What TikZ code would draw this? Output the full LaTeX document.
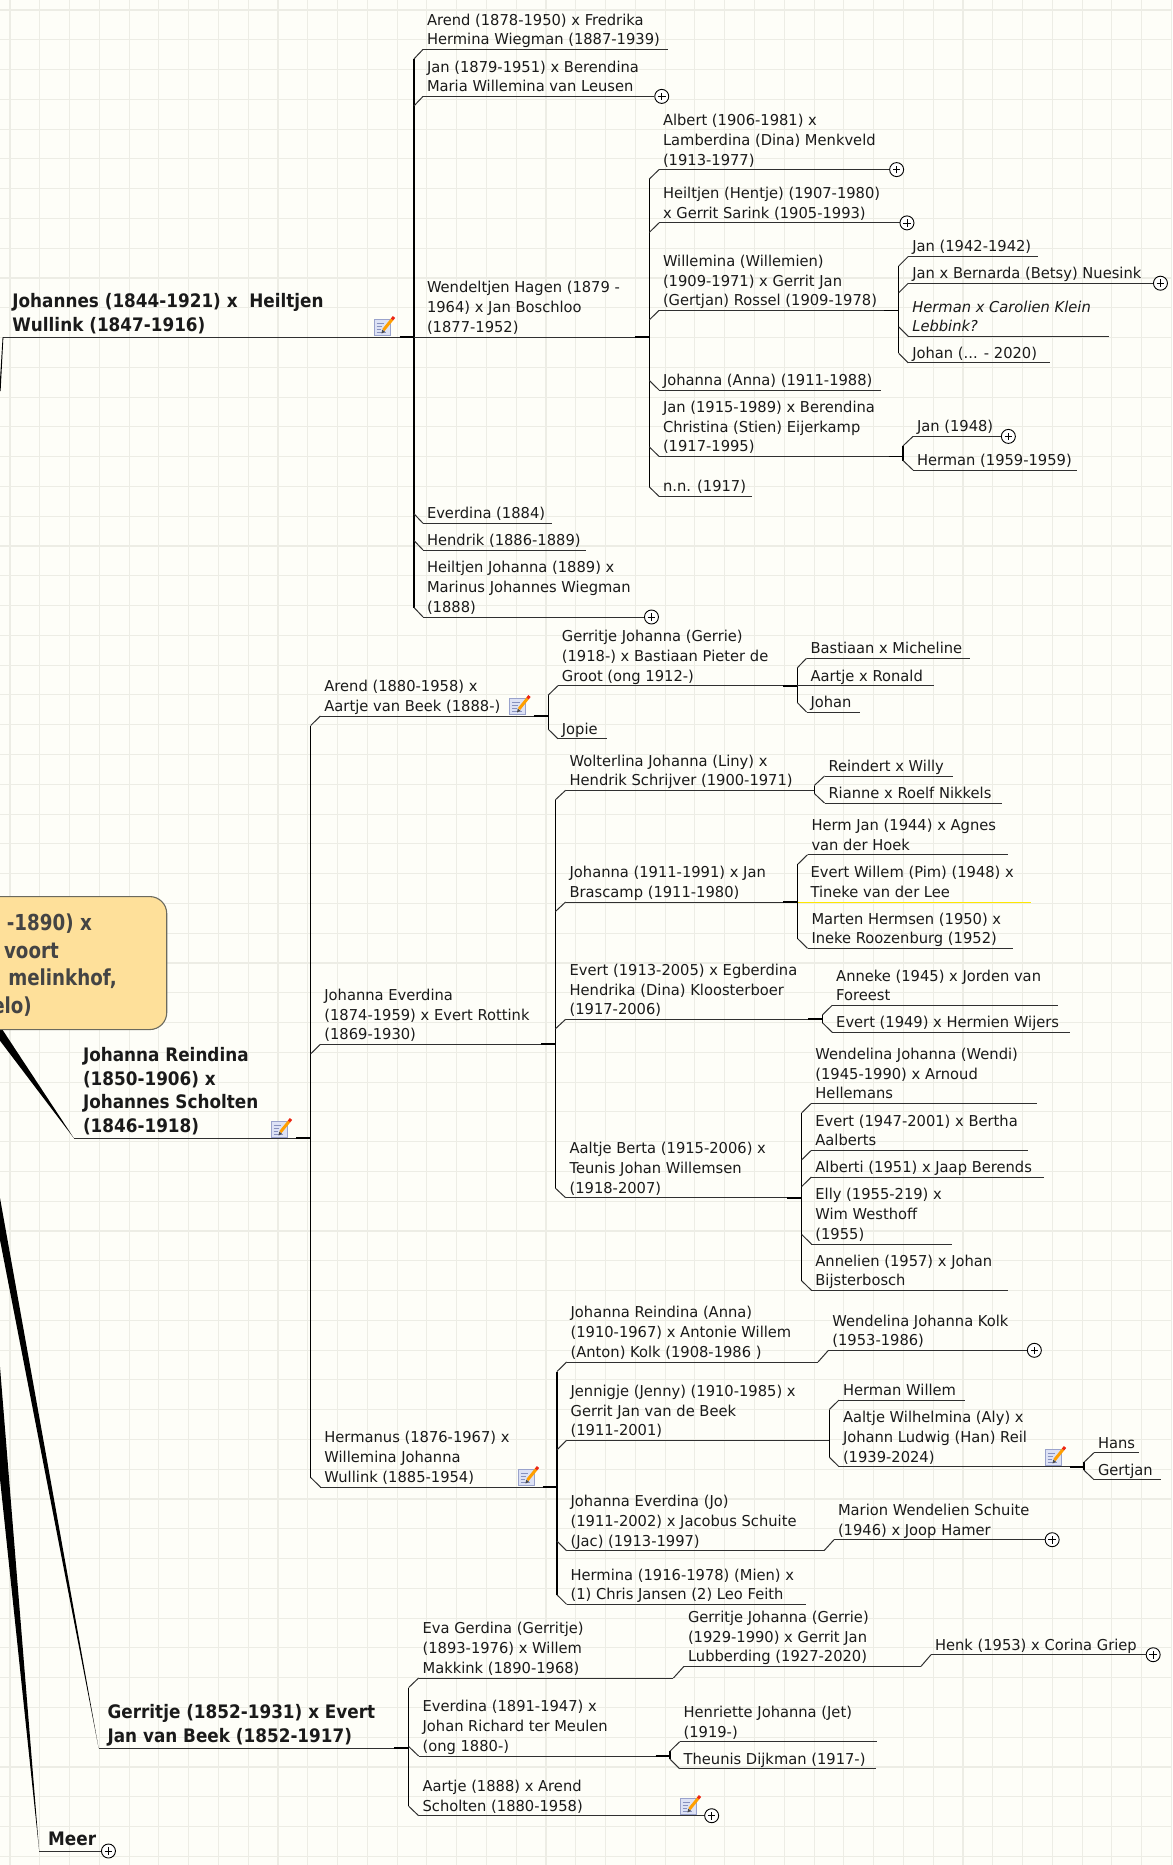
\documentclass[tikz,border=0pt]{standalone}
\usepackage{fontspec}
\setmainfont{DejaVu Sans}[FakeStretch=0.98,BoldFeatures={FakeStretch=0.905}]
\newfontfamily\rootfont{DejaVu Sans}[FakeStretch=0.83,BoldFeatures={FakeStretch=0.83}]
\usetikzlibrary{calc}
\definecolor{bgc}{HTML}{FEFEF8}
\definecolor{gridc}{HTML}{EDEDE5}
\definecolor{inkc}{HTML}{1A1A1A}
\definecolor{linec}{HTML}{303030}
\definecolor{rootfill}{HTML}{FEE09A}
\definecolor{rootedge}{HTML}{6B6A5E}
\definecolor{roottext}{HTML}{444444}
\definecolor{paperc}{HTML}{DDE2F5}
\definecolor{paperedge}{HTML}{9AA3CC}
\definecolor{paperline}{HTML}{8791BE}
\tikzset{
  x=1pt,y=-1pt,
  person/.style={anchor=south west,inner xsep=0pt,inner ysep=4.5pt,outer sep=0pt,text depth=0pt,text=inkc},
  bigperson/.style={person,inner ysep=6pt},
  link/.style={draw=linec,line width=1pt},
  spineline/.style={draw=black,line width=1.2pt},
  stub/.style={draw=black,line width=1.8pt},
  plusc/.style={circle,draw=black,fill=white,line width=.9pt,minimum size=14pt,inner sep=0pt,anchor=west,
    path picture={\draw[line width=.8pt] (-3.8pt,0)--(3.8pt,0) (0,-3.8pt)--(0,3.8pt);}},
  rootbox/.style={draw=rootedge,fill=rootfill,line width=1.1pt,rounded corners=17pt,minimum width=210pt,minimum height=133pt,anchor=north east,inner sep=0pt},
  roottxt/.style={anchor=base east,inner sep=0pt,text=roottext,font=\rootfont\fontsize{22}{27}\selectfont\bfseries},
}
% name, x1, x2, y, text
\newcommand\pers[5]{\node[person] (#1) at (#2,#4) {\makebox[\dimexpr#3pt-#2pt\relax][l]{\hspace*{4pt}\parbox[b]{420pt}{\fontsize{15}{19.8}\selectfont\baselineskip=19.8pt\lineskiplimit=-100pt\raggedright #5\par}}};
  \draw[link] (#1.south west) -- (#1.south east);}
\newcommand\bigpers[5]{\node[bigperson] (#1) at (#2,#4) {\makebox[\dimexpr#3pt-#2pt\relax][l]{\hspace*{9pt}\parbox[b]{420pt}{\fontsize{18.6}{23.6}\selectfont\bfseries\baselineskip=23.6pt\lineskiplimit=-100pt\raggedright #5\par}}};
  \draw[link] (#1.south west) -- (#1.south east);}
\newcommand\chUp[2]{\draw[link] let \p1=(#1.south east),\p2=(#2.south west) in (\x1,\y2-9.5pt) -- (\p2);}
\newcommand\chDn[2]{\draw[link] let \p1=(#1.south east),\p2=(#2.south west) in (\x1,\y2+9.5pt) -- (\p2);}
\newcommand\spineOf[3]{\draw[spineline] let \p1=(#1.south east),\p2=(#2.south west),\p3=(#3.south west) in (\x1,\y2-9.5pt) -- (\x1,\y3+9.5pt);}
\newcommand\stubOf[1]{\draw[stub] ([xshift=-14.5pt]#1.south east) -- (#1.south east);}
\newcommand\plusOf[2]{\node[plusc] (#1) at (#2.south east) {};}
\newcommand\noteicon[2]{\begin{scope}[shift={(#1,#2)}]
  \filldraw[fill=paperc,draw=paperedge,line width=.7pt] (0,4) rectangle (16,20);
  \draw[paperline,line width=.7pt] (2.5,8)--(10,8) (2.5,11)--(8,11) (2.5,14)--(7,14) (2.5,17)--(12,17);
  \draw[orange!75!yellow,line width=3pt] (9.5,15)--(18,4.5);
  \draw[red!70!brown,line width=3pt] (18,4.5)--(20,2);
  \fill[black!70] (7.5,18.5)--(8.2,14.6)--(11,16.8)--cycle;
\end{scope}}
\begin{document}
\begin{tikzpicture}
\useasboundingbox (0,0) rectangle (1172,1865);
\fill[bgc] (0,0) rectangle (1172,1865);
\foreach \i in {0,...,39} {\draw[gridc,line width=1.1pt] ({10+\i*29.78},0) -- ({10+\i*29.78},1865);}
\foreach \i in {0,...,62} {\draw[gridc,line width=1.1pt] (0,{10+\i*29.78}) -- (1172,{10+\i*29.78});}

% top family
\bigpers{johannes}{3.4}{414}{337}{Johannes (1844-1921) x\ \ Heiltjen\\Wullink (1847-1916)}
\pers{arendA}{423}{667.5}{49.4}{Arend (1878-1950) x Fredrika\\Hermina Wiegman (1887-1939)}
\pers{janA}{423}{654.3}{96.4}{Jan (1879-1951) x Berendina\\Maria Willemina van Leusen}
\pers{wendA}{423}{649.3}{337}{Wendeltjen Hagen (1879 -\\1964) x Jan Boschloo\\(1877-1952)}
\pers{everA}{423}{552}{523.3}{Everdina (1884)}
\pers{hendA}{423}{585.5}{550}{Hendrik (1886-1889)}
\pers{heilA}{423}{644}{617}{Heiltjen Johanna (1889) x\\Marinus Johannes Wiegman\\(1888)}
\plusOf{pJanA}{janA}
\plusOf{pHeilA}{heilA}
\stubOf{johannes}
\spineOf{johannes}{arendA}{heilA}
\chUp{johannes}{arendA}
\chUp{johannes}{janA}
\draw[link] (johannes.south east) -- (wendA.south west);
\chDn{johannes}{everA}
\chDn{johannes}{hendA}
\chDn{johannes}{heilA}

\pers{albert}{659}{889.2}{169.6}{Albert (1906-1981) x\\Lamberdina (Dina) Menkveld\\(1913-1977)}
\pers{hentje}{659}{899.5}{222.9}{Heiltjen (Hentje) (1907-1980)\\x Gerrit Sarink (1905-1993)}
\pers{willem}{659}{898.8}{310.4}{Willemina (Willemien)\\(1909-1971) x Gerrit Jan\\(Gertjan) Rossel (1909-1978)}
\pers{anna}{659}{881}{390}{Johanna (Anna) (1911-1988)}
\pers{janB}{659}{903}{456.4}{Jan (1915-1989) x Berendina\\Christina (Stien) Eijerkamp\\(1917-1995)}
\pers{nn}{659}{751.8}{496.4}{n.n. (1917)}
\plusOf{pAlbert}{albert}
\plusOf{pHentje}{hentje}
\stubOf{wendA}
\spineOf{wendA}{albert}{nn}
\chUp{wendA}{albert}
\chUp{wendA}{hentje}
\chUp{wendA}{willem}
\chDn{wendA}{anna}
\chDn{wendA}{janB}
\chDn{wendA}{nn}

\pers{janC}{908.3}{1037.8}{256.4}{Jan (1942-1942)}
\pers{bern}{908.3}{1153}{283.2}{Jan x Bernarda (Betsy) Nuesink}
\pers{herm}{908.3}{1108.6}{336.4}{\itshape Herman x Carolien Klein\\Lebbink?}
\pers{johan}{908.3}{1049.5}{362.9}{Johan (... - 2020)}
\plusOf{pBern}{bern}
\stubOf{willem}
\spineOf{willem}{janC}{johan}
\chUp{willem}{janC}
\chUp{willem}{bern}
\chDn{willem}{herm}
\chDn{willem}{johan}

\pers{janD}{913}{1000.9}{436.4}{Jan (1948)}
\pers{hermB}{913}{1076.8}{470}{Herman (1959-1959)}
\plusOf{pJanD}{janD}
\stubOf{janB}
\spineOf{janB}{janD}{hermB}
\chUp{janB}{janD}
\chDn{janB}{hermB}

% Johanna Reindina family
\bigpers{jr}{74}{310.7}{1138.3}{Johanna Reindina\\(1850-1906) x\\Johannes Scholten\\(1846-1918)}
\pers{arendB}{320.4}{548.2}{716}{Arend (1880-1958) x\\Aartje van Beek (1888-)}
\pers{jev}{320.4}{555.4}{1044.3}{Johanna Everdina\\(1874-1959) x Evert Rottink\\(1869-1930)}
\pers{hman}{320.4}{557}{1487}{Hermanus (1876-1967) x\\Willemina Johanna\\Wullink (1885-1954)}
\stubOf{jr}
\spineOf{jr}{arendB}{hman}
\chUp{jr}{arendB}
\chUp{jr}{jev}
\chDn{jr}{hman}

\pers{gerrA}{557.9}{797.3}{685.7}{Gerritje Johanna (Gerrie)\\(1918-) x Bastiaan Pieter de\\Groot (ong 1912-)}
\pers{jopie}{557.9}{607.3}{738.7}{Jopie}
\stubOf{arendB}
\spineOf{arendB}{gerrA}{jopie}
\chUp{arendB}{gerrA}
\chDn{arendB}{jopie}
\pers{bast}{806.5}{970.4}{658.3}{Bastiaan x Micheline}
\pers{aaron}{806.5}{933.5}{685.7}{Aartje x Ronald}
\pers{johanB}{806.5}{859.9}{712}{Johan}
\stubOf{gerrA}
\spineOf{gerrA}{bast}{johanB}
\chUp{gerrA}{bast}
\draw[link] (gerrA.south east) -- (aaron.south west);
\chDn{gerrA}{johanB}

\pers{wolt}{565.6}{814.3}{790.3}{Wolterlina Johanna (Liny) x\\Hendrik Schrijver (1900-1971)}
\pers{jbras}{565.6}{797.8}{902}{Johanna (1911-1991) x Jan\\Brascamp (1911-1980)}
\pers{evertA}{565.6}{822.5}{1019.3}{Evert (1913-2005) x Egberdina\\Hendrika (Dina) Kloosterboer\\(1917-2006)}
\pers{aalt}{565.6}{801.7}{1197.7}{Aaltje Berta (1915-2006) x\\Teunis Johan Willemsen\\(1918-2007)}
\stubOf{jev}
\spineOf{jev}{wolt}{aalt}
\chUp{jev}{wolt}
\chUp{jev}{jbras}
\chUp{jev}{evertA}
\chDn{jev}{aalt}

\pers{reind}{824.5}{953.4}{776}{Reindert x Willy}
\pers{rianne}{824.5}{1001.9}{803}{Rianne x Roelf Nikkels}
\spineOf{wolt}{reind}{rianne}
\chUp{wolt}{reind}
\chDn{wolt}{rianne}

\pers{hjan}{807.5}{1008.2}{854.7}{Herm Jan (1944) x Agnes\\van der Hoek}
\node[person] (ewil) at (807.5,902) {\makebox[223pt][l]{\hspace*{3pt}\parbox[b]{420pt}{\fontsize{15}{19.8}\selectfont\baselineskip=19.8pt\lineskiplimit=-100pt\raggedright Evert Willem (Pim) (1948) x\\Tineke van der Lee\par}}};
\pers{mart}{807.5}{1013}{948.3}{Marten Hermsen (1950) x\\Ineke Roozenburg (1952)}
\stubOf{jbras}
\spineOf{jbras}{hjan}{mart}
\chUp{jbras}{hjan}
\draw[yellow!90!orange,line width=1pt] (jbras.south east) -- (ewil.south east);
\chDn{jbras}{mart}

\pers{anne}{832.2}{1058}{1005.3}{Anneke (1945) x Jorden van\\Foreest}
\pers{evertB}{832.2}{1070}{1032.3}{Evert (1949) x Hermien Wijers}
\stubOf{evertA}
\spineOf{evertA}{anne}{evertB}
\chUp{evertA}{anne}
\chDn{evertA}{evertB}

\pers{wendi}{811.4}{1036.8}{1103.3}{Wendelina Johanna (Wendi)\\(1945-1990) x Arnoud\\Hellemans}
\pers{evertC}{811.4}{1028}{1150.3}{Evert (1947-2001) x Bertha\\Aalberts}
\pers{alb}{811.4}{1044}{1177}{Alberti (1951) x Jaap Berends}
\pers{elly}{811.4}{952.4}{1244}{Elly (1955-219) x\\Wim Westhoff\\(1955)}
\pers{annel}{811.4}{1008.2}{1290.3}{Annelien (1957) x Johan\\Bijsterbosch}
\stubOf{aalt}
\spineOf{aalt}{wendi}{annel}
\chUp{aalt}{wendi}
\chUp{aalt}{evertC}
\chUp{aalt}{alb}
\chDn{aalt}{elly}
\chDn{aalt}{annel}

\pers{jranna}{566.6}{818}{1362}{Johanna Reindina (Anna)\\(1910-1967) x Antonie Willem\\(Anton) Kolk (1908-1986 )}
\pers{jenny}{566.6}{829.3}{1440.3}{Jennigje (Jenny) (1910-1985) x\\Gerrit Jan van de Beek\\(1911-2001)}
\pers{jojo}{566.6}{824}{1550.7}{Johanna Everdina (Jo)\\(1911-2002) x Jacobus Schuite\\(Jac) (1913-1997)}
\pers{hermina}{566.6}{806}{1604.3}{Hermina (1916-1978) (Mien) x\\(1) Chris Jansen (2) Leo Feith}
\stubOf{hman}
\spineOf{hman}{jranna}{hermina}
\chUp{hman}{jranna}
\chUp{hman}{jenny}
\chDn{hman}{jojo}
\chDn{hman}{hermina}

\pers{wkolk}{828.4}{1026.9}{1350.3}{Wendelina Johanna Kolk\\(1953-1986)}
\plusOf{pKolk}{wkolk}
\draw[link] (jranna.south east) -- (wkolk.south west);

\pers{hwil}{839}{964.6}{1400}{Herman Willem}
\pers{aly}{839}{1084}{1466.7}{Aaltje Wilhelmina (Aly) x\\Johann Ludwig (Han) Reil\\(1939-2024)}
\spineOf{jenny}{hwil}{aly}
\chUp{jenny}{hwil}
\chDn{jenny}{aly}
\pers{hans}{1094}{1138.7}{1452.7}{Hans}
\pers{gertj}{1094}{1161}{1479.7}{Gertjan}
\stubOf{aly}
\spineOf{aly}{hans}{gertj}
\chUp{aly}{hans}
\chDn{aly}{gertj}

\pers{marion}{834}{1044.7}{1539.7}{Marion Wendelien Schuite\\(1946) x Joop Hamer}
\plusOf{pMarion}{marion}
\draw[link] (jojo.south east) -- (marion.south west);

% Gerritje family
\bigpers{gerrB}{98.6}{408.7}{1748}{Gerritje (1852-1931) x Evert\\Jan van Beek (1852-1917)}
\pers{eva}{418.6}{673.4}{1678}{Eva Gerdina (Gerritje)\\(1893-1976) x Willem\\Makkink (1890-1968)}
\pers{everB}{418.6}{670}{1756}{Everdina (1891-1947) x\\Johan Richard ter Meulen\\(ong 1880-)}
\pers{aartB}{418.6}{704.2}{1815.7}{Aartje (1888) x Arend\\Scholten (1880-1958)}
\plusOf{pAartB}{aartB}
\stubOf{gerrB}
\spineOf{gerrB}{eva}{aartB}
\chUp{gerrB}{eva}
\chDn{gerrB}{everB}
\chDn{gerrB}{aartB}

\pers{gerrC}{684}{921}{1666.3}{Gerritje Johanna (Gerrie)\\(1929-1990) x Gerrit Jan\\Lubberding (1927-2020)}
\draw[link] (eva.south east) -- (gerrC.south west);
\pers{henk}{931}{1145.7}{1654.7}{Henk (1953) x Corina Griep}
\plusOf{pHenk}{henk}
\draw[link] (gerrC.south east) -- (henk.south west);

\pers{jet}{679.6}{877}{1741.7}{Henriette Johanna (Jet)\\(1919-)}
\pers{theun}{679.6}{875.7}{1768.7}{Theunis Dijkman (1917-)}
\stubOf{everB}
\spineOf{everB}{jet}{theun}
\chUp{everB}{jet}
\chDn{everB}{theun}

\bigpers{meer}{39.2}{101}{1851}{Meer}
\plusOf{pMeer}{meer}

% note icons
\noteicon{374}{315}
\noteicon{509.5}{694}
\noteicon{518}{1465}
\noteicon{271}{1117}
\noteicon{1045}{1445}
\noteicon{680}{1794}

% wedges from the root
\fill[black] (0,1026) -- (jr.south west) -- (0,1040.7) -- cycle;
\fill[black] (0,1198) -- (gerrB.south west) -- (0,1240) -- cycle;
\fill[black] (0,1367) -- (meer.south west) -- (0,1479) -- cycle;
\fill[black] (0,380) -- (2.6,337) -- (johannes.south west) -- (0.6,391) -- (0,391) -- cycle;

% root box
\node[rootbox] (root) at (167.3,896) {};
\node[roottxt] (r1) at (92,930) {-1890) x};
\node[roottxt] (r2) at (59,958) {voort};
\node[roottxt] (r3) at (117,985.7) {melinkhof,};
\node[roottxt] (r4) at (32,1013) {elo)};
\end{tikzpicture}
\end{document}
